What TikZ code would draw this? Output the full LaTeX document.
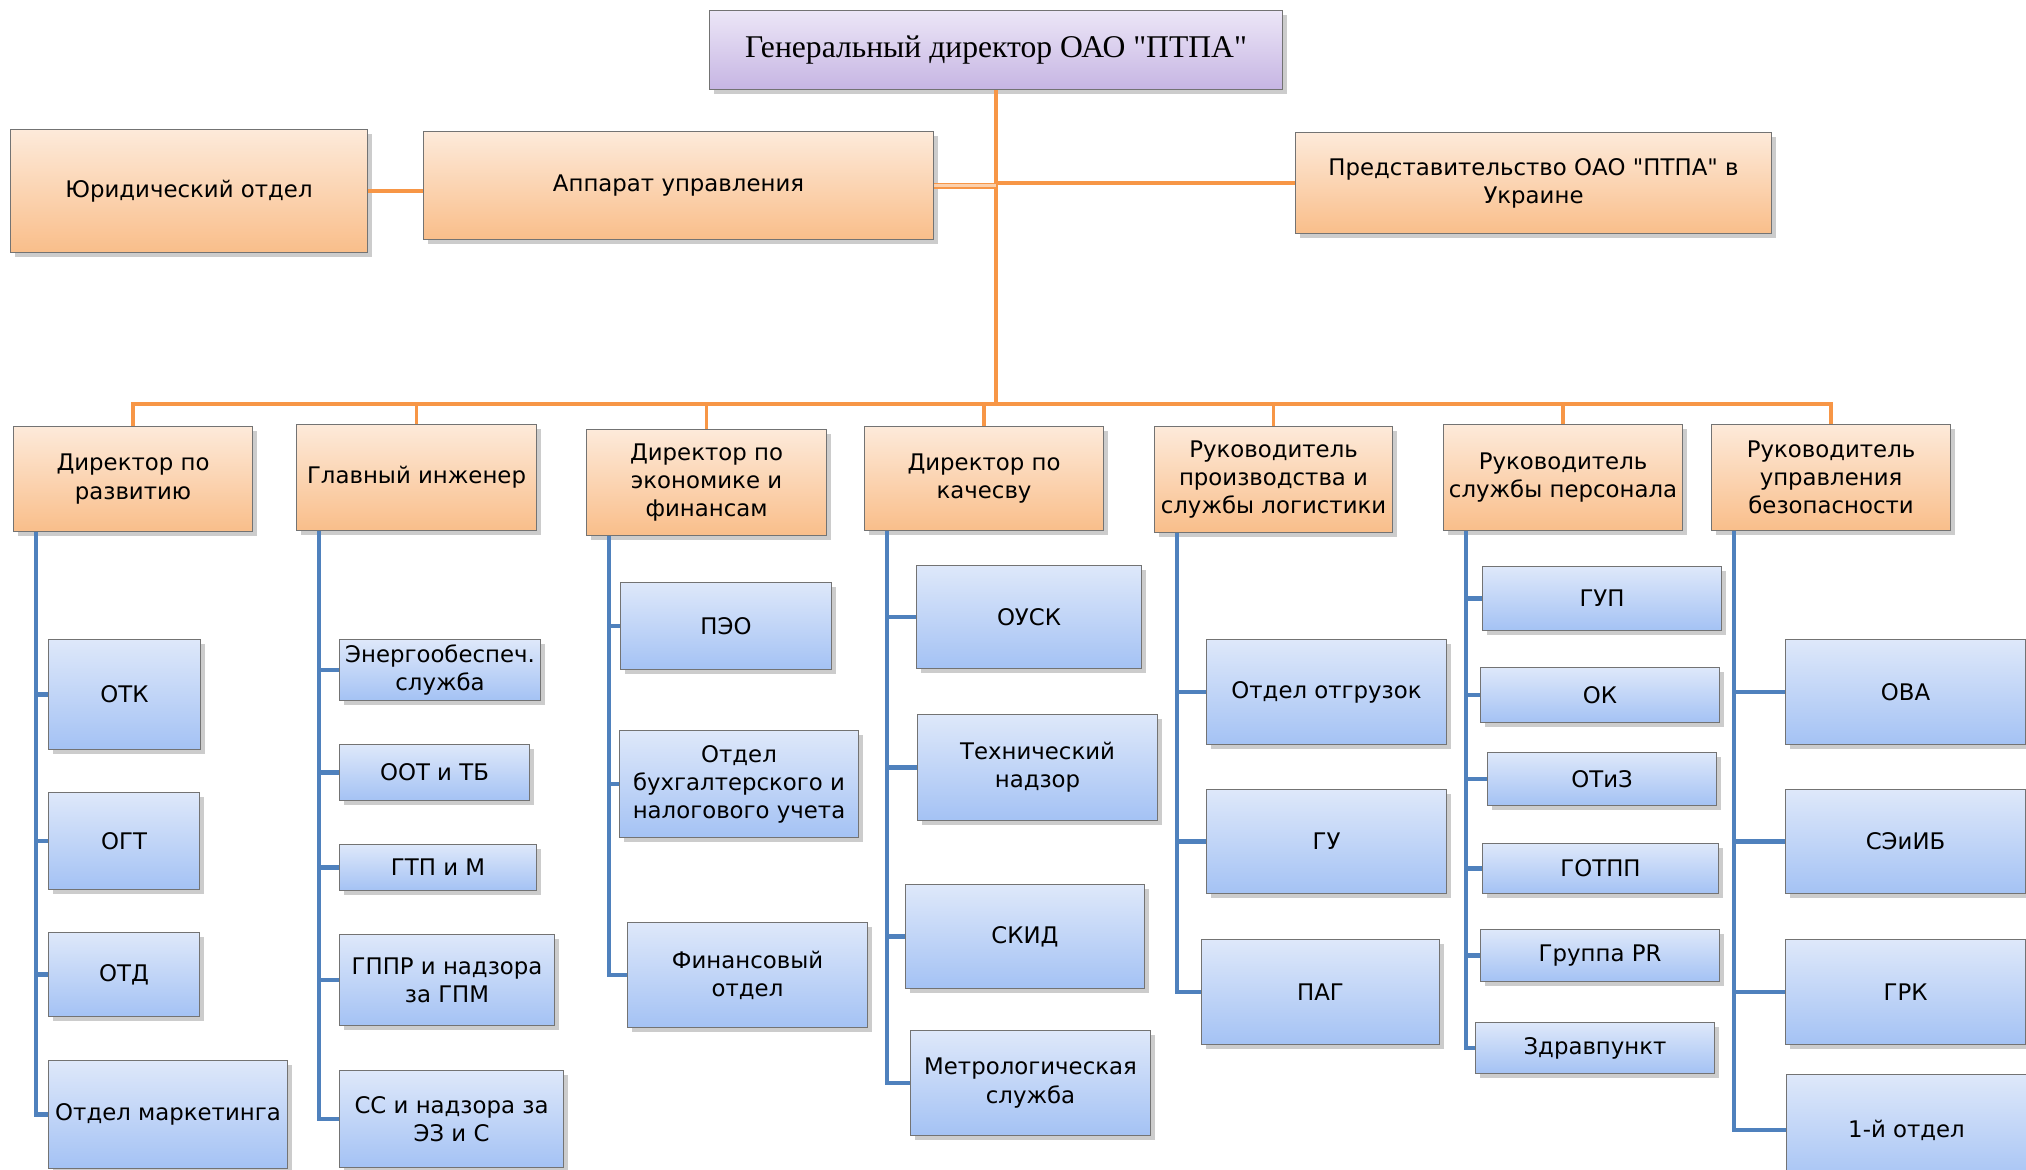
\documentclass[tikz,border=0pt]{standalone}
\usepackage{fontspec}
\setmainfont{DejaVu Sans}
\newfontfamily\sansf{DejaVu Sans}
\newfontfamily\serifttl{Liberation Serif}
\usetikzlibrary{shadows}
\definecolor{orTop}{HTML}{FDEADA}
\definecolor{orBot}{HTML}{F9BE8A}
\definecolor{blTop}{HTML}{DEE8FA}
\definecolor{blBot}{HTML}{A4C2F4}
\definecolor{puTop}{HTML}{ECE6F7}
\definecolor{puBot}{HTML}{C6B5E3}
\definecolor{lnOr}{HTML}{F79646}
\definecolor{lnBl}{HTML}{4F81BD}
\newcommand\mkbox[7]{\node[#2, anchor=north west, minimum width={(#5-#3)*0.02cm}, minimum height={(#6-#4)*0.02cm}] (#1) at (#3,#4) {#7};}
\begin{document}
\begin{tikzpicture}[x=0.02cm,y=-0.02cm,
  box/.style={draw=black!55, line width=0.6pt, inner sep=1pt, align=center,
    font=\sansf\fontsize{13}{16}\selectfont,
    drop shadow={shadow xshift=2.5pt, shadow yshift=-2.5pt, fill=black!40, opacity=0.5}},
  obox/.style={box, top color=orTop, bottom color=orBot},
  bbox/.style={box, top color=blTop, bottom color=blBot},
  pbox/.style={box, top color=puTop, bottom color=puBot, font=\serifttl\fontsize{18}{22}\selectfont},
  oline/.style={draw=lnOr, line width=2.3pt},
  odbl/.style={draw=lnOr, line width=1pt, double=lnOr!45, double distance=1.4pt},
  othin/.style={draw=lnOr, line width=1.8pt},
  bline/.style={draw=lnBl, line width=2.4pt}]
\useasboundingbox (0,0) rectangle (2026,1170);
% top level
\mkbox{gen}{pbox}{709}{10}{1282}{89}{Генеральный директор ОАО "ПТПА"}
\mkbox{jur}{obox}{10}{129}{367}{252}{Юридический отдел}
\mkbox{app}{obox}{423}{131}{933}{239}{Аппарат управления}
\mkbox{pred}{obox}{1295}{132}{1771}{233}{Представительство ОАО "ПТПА" в\\Украине}
% directors
\mkbox{d1}{obox}{13}{426}{252}{531}{Директор по\\развитию}
\mkbox{d2}{obox}{296}{424}{536}{530}{Главный инженер}
\mkbox{d3}{obox}{586}{429}{826}{535}{Директор по\\экономике и\\финансам}
\mkbox{d4}{obox}{864}{426}{1103}{530}{Директор по\\качесву}
\mkbox{d5}{obox}{1154}{426}{1392}{532}{Руководитель\\производства и\\службы логистики}
\mkbox{d6}{obox}{1443}{424}{1682}{530}{Руководитель\\службы персонала}
\mkbox{d7}{obox}{1711}{424}{1950}{530}{Руководитель\\управления\\безопасности}
% column 1
\mkbox{c11}{bbox}{48}{639}{200}{749}{ОТК}
\mkbox{c12}{bbox}{48}{792}{199}{889}{ОГТ}
\mkbox{c13}{bbox}{48}{932}{199}{1016}{ОТД}
\mkbox{c14}{bbox}{48}{1060}{287}{1168}{Отдел маркетинга}
% column 2
\mkbox{c21}{bbox}{339}{639}{540}{700}{Энергообеспеч.\\служба}
\mkbox{c22}{bbox}{339}{744}{529}{800}{ООТ и ТБ}
\mkbox{c23}{bbox}{339}{844}{536}{890}{ГТП и М}
\mkbox{c24}{bbox}{339}{934}{554}{1025}{ГППР и надзора\\за ГПМ}
\mkbox{c25}{bbox}{339}{1070}{563}{1167}{СС и надзора за\\ЭЗ и С}
% column 3
\mkbox{c31}{bbox}{620}{582}{831}{669}{ПЭО}
\mkbox{c32}{bbox}{619}{730}{858}{837}{Отдел\\бухгалтерского и\\налогового учета}
\mkbox{c33}{bbox}{627}{922}{867}{1027}{Финансовый\\отдел}
% column 4
\mkbox{c41}{bbox}{916}{565}{1141}{668}{ОУСК}
\mkbox{c42}{bbox}{917}{714}{1157}{820}{Технический\\надзор}
\mkbox{c43}{bbox}{905}{884}{1144}{988}{СКИД}
\mkbox{c44}{bbox}{910}{1030}{1150}{1135}{Метрологическая\\служба}
% column 5
\mkbox{c51}{bbox}{1206}{639}{1446}{744}{Отдел отгрузок}
\mkbox{c52}{bbox}{1206}{789}{1446}{893}{ГУ}
\mkbox{c53}{bbox}{1201}{939}{1439}{1044}{ПАГ}
% column 6
\mkbox{c61}{bbox}{1482}{566}{1721}{630}{ГУП}
\mkbox{c62}{bbox}{1480}{667}{1719}{722}{ОК}
\mkbox{c63}{bbox}{1487}{752}{1716}{805}{ОТиЗ}
\mkbox{c64}{bbox}{1482}{843}{1718}{893}{ГОТПП}
\mkbox{c65}{bbox}{1480}{929}{1719}{981}{Группа PR}
\mkbox{c66}{bbox}{1475}{1022}{1714}{1073}{Здравпункт}
% column 7
\mkbox{c71}{bbox}{1785}{639}{2025}{744}{ОВА}
\mkbox{c72}{bbox}{1785}{789}{2025}{893}{СЭиИБ}
\mkbox{c73}{bbox}{1785}{939}{2025}{1044}{ГРК}
\mkbox{c74}{bbox}{1786}{1074}{2026}{1185}{1-й отдел}
% orange connectors
\draw[oline] (gen.south) -- ++(0,314) coordinate (hub);
\draw[odbl] (app.east) -- (app.east -| gen.south);
\draw[oline] (jur.east) -- (jur.east -| app.west);
\draw[oline] (pred.west) -- (pred.west -| gen.south);
\foreach \d in {d1,d2,d3,d4,d5,d6,d7}{\draw[othin] (hub) -| (\d.north);}
% blue connectors
\foreach \d/\cs in {d1/{c11,c12,c13,c14}, d2/{c21,c22,c23,c24,c25}, d3/{c31,c32,c33}, d4/{c41,c42,c43,c44}, d5/{c51,c52,c53}, d6/{c61,c62,c63,c64,c65,c66}, d7/{c71,c72,c73,c74}}{
  \foreach \c in \cs {\draw[bline] ([xshift=23*0.02cm]\d.south west) |- (\c.west);}
}
\end{tikzpicture}
\end{document}
